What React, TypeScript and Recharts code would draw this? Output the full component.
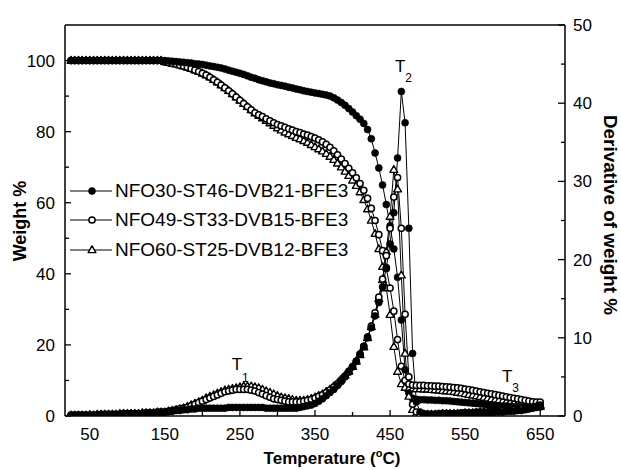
import React from 'react';
import { ComposedChart, Line, XAxis, YAxis, ReferenceLine, ReferenceDot, Legend } from 'recharts';

const FONT = "'Liberation Sans', Arial, Helvetica, sans-serif";

// Temperature (°C)
const temps = [
  25, 30, 35, 40, 45, 50, 55, 60, 65, 70,
  75, 80, 85, 90, 95, 100, 105, 110, 115, 120,
  125, 130, 135, 140, 145, 150, 155, 160, 165, 170,
  175, 180, 185, 190, 195, 200, 205, 210, 215, 220,
  225, 230, 235, 240, 245, 250, 255, 260, 265, 270,
  275, 280, 285, 290, 295, 300, 305, 310, 315, 320,
  325, 330, 335, 340, 345, 350, 355, 360, 365, 370,
  375, 380, 385, 390, 395, 400, 405, 410, 415, 420,
  425, 430, 435, 440, 445, 450, 455, 460, 465, 470,
  475, 480, 485, 490, 495, 500, 505, 510, 515, 520,
  525, 530, 535, 540, 545, 550, 555, 560, 565, 570,
  575, 580, 585, 590, 595, 600, 605, 610, 615, 620,
  625, 630, 635, 640, 645, 650,
];

// Weight % – NFO30-ST46-DVB21-BFE3
const weight1 = [
  100, 100, 100, 100, 100, 100, 100, 100, 100, 100,
  100, 100, 100, 100, 100, 100, 100, 100, 100, 100,
  100, 100, 100, 100, 100, 100, 99.9, 99.8, 99.7, 99.6,
  99.5, 99.4, 99.3, 99.1, 99.0, 98.9, 98.7, 98.5, 98.3, 98.1,
  97.9, 97.6, 97.3, 97.0, 96.7, 96.4, 96.1, 95.7, 95.3, 95.0,
  94.6, 94.3, 94.0, 93.7, 93.5, 93.2, 93.0, 92.8, 92.5, 92.3,
  92.0, 91.8, 91.5, 91.3, 91.1, 90.9, 90.7, 90.5, 90.3, 90.0,
  89.5, 88.9, 88.2, 87.4, 86.5, 85.5, 84.5, 83.5, 82.3, 80.6,
  78.0, 74.0, 69.8, 65.0, 59.5, 53.5, 47.0, 39.0, 27.0, 13.0,
  6.5, 5.0, 4.7, 4.6, 4.6, 4.5, 4.5, 4.4, 4.4, 4.3,
  4.3, 4.2, 4.1, 4.0, 3.9, 3.8, 3.7, 3.6, 3.5, 3.4,
  3.3, 3.2, 3.1, 3.0, 2.9, 2.8, 2.8, 2.7, 2.6, 2.6,
  2.5, 2.5, 2.4, 2.4, 2.4, 2.5,
];

// Weight % – NFO49-ST33-DVB15-BFE3
const weight2 = [
  100, 100, 100, 100, 100, 100, 100, 100, 100, 100,
  100, 100, 100, 100, 100, 100, 100, 100, 100, 100,
  100, 100, 100, 100, 100, 99.6, 99.4, 99.2, 99.0, 98.7,
  98.4, 98.1, 97.7, 97.3, 96.9, 96.4, 95.9, 95.3, 94.6, 93.9,
  93.1, 92.3, 91.5, 90.6, 89.7, 88.8, 87.9, 87.0, 86.1, 85.3,
  84.7, 84.2, 83.6, 83.0, 82.5, 82.0, 81.6, 81.2, 80.8, 80.4,
  80.0, 79.7, 79.3, 79.0, 78.6, 78.2, 77.7, 77.1, 76.4, 75.6,
  74.6, 73.5, 72.3, 71.0, 69.7, 68.4, 67.0, 65.4, 63.5, 61.2,
  58.4, 55.0, 51.0, 46.5, 41.5, 36.0, 29.5, 21.5, 14.0, 10.0,
  9.0, 8.7, 8.6, 8.6, 8.6, 8.5, 8.5, 8.4, 8.4, 8.3,
  8.2, 8.1, 8.0, 7.9, 7.8, 7.6, 7.4, 7.2, 7.0, 6.8,
  6.6, 6.4, 6.2, 6.0, 5.8, 5.6, 5.4, 5.2, 5.0, 4.8,
  4.6, 4.4, 4.2, 4.0, 3.9, 3.9,
];

// Weight % – NFO60-ST25-DVB12-BFE3
const weight3 = [
  100, 100, 100, 100, 100, 100, 100, 100, 100, 100,
  100, 100, 100, 100, 100, 100, 100, 100, 100, 100,
  100, 100, 100, 100, 100, 99.6, 99.4, 99.2, 99.0, 98.7,
  98.4, 98.1, 97.7, 97.3, 96.9, 96.4, 95.9, 95.3, 94.6, 93.9,
  93.1, 92.3, 91.5, 90.6, 89.7, 88.8, 87.9, 87.0, 86.1, 85.2,
  84.5, 83.8, 83.1, 82.4, 81.7, 81.0, 80.4, 79.8, 79.3, 78.8,
  78.3, 77.9, 77.4, 76.9, 76.3, 75.7, 75.1, 74.5, 73.8, 73.0,
  72.1, 71.1, 70.0, 68.8, 67.6, 66.3, 64.8, 63.0, 60.8, 58.2,
  55.0, 51.3, 47.0, 42.0, 36.0, 28.5, 19.5, 12.5, 9.0, 8.0,
  7.7, 7.6, 7.6, 7.6, 7.5, 7.5, 7.4, 7.3, 7.2, 7.1,
  7.0, 6.9, 6.8, 6.6, 6.4, 6.2, 6.0, 5.8, 5.6, 5.4,
  5.2, 5.0, 4.8, 4.6, 4.4, 4.2, 4.0, 3.8, 3.6, 3.4,
  3.3, 3.2, 3.1, 3.0, 3.0, 3.0,
];

// Derivative of weight % – NFO30-ST46-DVB21-BFE3
const deriv1 = [
  0.1, 0.1, 0.1, 0.1, 0.1, 0.1, 0.1, 0.1, 0.1, 0.2,
  0.2, 0.2, 0.2, 0.2, 0.2, 0.2, 0.3, 0.3, 0.3, 0.3,
  0.3, 0.4, 0.4, 0.4, 0.5, 0.5, 0.6, 0.6, 0.7, 0.7,
  0.8, 0.8, 0.9, 0.9, 1.0, 1.0, 1.0, 1.0, 1.0, 1.0,
  1.0, 1.0, 1.1, 1.1, 1.1, 1.1, 1.1, 1.1, 1.1, 1.1,
  1.1, 1.1, 1.0, 1.0, 1.0, 1.0, 1.0, 1.0, 1.0, 1.0,
  1.0, 1.1, 1.2, 1.3, 1.4, 1.6, 1.9, 2.2, 2.6, 3.0,
  3.4, 3.9, 4.4, 5.0, 5.6, 6.3, 7.0, 7.9, 8.9, 10.0,
  11.3, 12.8, 14.5, 16.5, 19.0, 22.0, 26.0, 33.0, 41.5, 37.5,
  24.0, 8.0, 1.8, 0.5, 0.3, 0.2, 0.2, 0.2, 0.2, 0.2,
  0.2, 0.2, 0.2, 0.3, 0.3, 0.3, 0.3, 0.3, 0.4, 0.4,
  0.4, 0.4, 0.5, 0.5, 0.5, 0.5, 0.6, 0.6, 0.6, 0.7,
  0.7, 0.8, 0.9, 1.0, 1.2, 1.4,
];

// Derivative of weight % – NFO49-ST33-DVB15-BFE3
const deriv2 = [
  0.1, 0.1, 0.1, 0.1, 0.1, 0.1, 0.1, 0.1, 0.2, 0.2,
  0.2, 0.2, 0.2, 0.2, 0.3, 0.3, 0.3, 0.3, 0.3, 0.3,
  0.4, 0.4, 0.4, 0.5, 0.5, 0.5, 0.6, 0.7, 0.8, 0.9,
  1.0, 1.1, 1.3, 1.5, 1.7, 1.9, 2.1, 2.3, 2.5, 2.7,
  2.9, 3.1, 3.2, 3.3, 3.4, 3.4, 3.4, 3.4, 3.3, 3.2,
  3.0, 2.8, 2.6, 2.4, 2.2, 2.1, 2.0, 1.9, 1.8, 1.8,
  1.8, 1.8, 1.9, 2.0, 2.1, 2.3, 2.5, 2.7, 3.0, 3.3,
  3.7, 4.1, 4.6, 5.1, 5.7, 6.3, 7.0, 7.9, 8.9, 10.1,
  11.5, 13.2, 15.2, 17.5, 20.5, 24.0, 28.0, 30.5, 24.0, 13.0,
  5.0, 1.5, 0.5, 0.2, 0.2, 0.2, 0.2, 0.2, 0.3, 0.3,
  0.3, 0.3, 0.3, 0.3, 0.4, 0.4, 0.4, 0.4, 0.5, 0.5,
  0.5, 0.5, 0.6, 0.6, 0.6, 0.7, 0.7, 0.7, 0.8, 0.8,
  0.9, 0.9, 1.0, 1.1, 1.2, 1.3,
];

// Derivative of weight % – NFO60-ST25-DVB12-BFE3
const deriv3 = [
  0.1, 0.1, 0.1, 0.1, 0.1, 0.1, 0.1, 0.2, 0.2, 0.2,
  0.2, 0.2, 0.2, 0.3, 0.3, 0.3, 0.3, 0.3, 0.3, 0.4,
  0.4, 0.4, 0.4, 0.5, 0.5, 0.5, 0.6, 0.7, 0.8, 0.9,
  1.0, 1.2, 1.4, 1.6, 1.8, 2.0, 2.3, 2.5, 2.7, 2.9,
  3.1, 3.3, 3.4, 3.5, 3.6, 3.7, 3.8, 3.8, 3.8, 3.7,
  3.6, 3.4, 3.2, 3.0, 2.8, 2.6, 2.4, 2.3, 2.2, 2.1,
  2.0, 2.0, 2.0, 2.1, 2.2, 2.4, 2.6, 2.8, 3.1, 3.4,
  3.8, 4.2, 4.7, 5.2, 5.7, 6.3, 7.0, 7.8, 8.8, 10.0,
  11.4, 13.0, 15.0, 17.4, 21.0, 25.5, 31.5, 29.0, 18.0, 8.0,
  2.5, 0.8, 0.3, 0.2, 0.2, 0.2, 0.2, 0.2, 0.2, 0.3,
  0.3, 0.3, 0.3, 0.3, 0.3, 0.4, 0.4, 0.4, 0.4, 0.5,
  0.5, 0.5, 0.5, 0.6, 0.6, 0.6, 0.7, 0.7, 0.7, 0.8,
  0.8, 0.9, 1.0, 1.1, 1.2, 1.2,
];

const seriesNames = ['NFO30-ST46-DVB21-BFE3', 'NFO49-ST33-DVB15-BFE3', 'NFO60-ST25-DVB12-BFE3'];
const seriesMarkers = ['filled', 'open', 'triangle'];

const xTicks = [50, 100, 150, 200, 250, 300, 350, 400, 450, 500, 550, 600, 650];
const xLabeled = [50, 150, 250, 350, 450, 550, 650];
const leftTicks = [0, 10, 20, 30, 40, 50, 60, 70, 80, 90, 100];
const leftLabeled = [0, 20, 40, 60, 80, 100];
const rightTicks = [0, 5, 10, 15, 20, 25, 30, 35, 40, 45, 50];
const rightLabeled = [0, 10, 20, 30, 40, 50];

const peakLabels = [
  { t: 239, d: 5.9, main: 'T', sub: '1', dy: 12 },
  { t: 456.5, d: 44.0, main: 'T', sub: '2', dy: 10 },
  { t: 599, d: 4.35, main: 'T', sub: '3', dy: 10 },
];

const data = temps.map((t, i) => ({
  t,
  w1: weight1[i],
  w2: weight2[i],
  w3: weight3[i],
  d1: deriv1[i],
  d2: deriv2[i],
  d3: deriv3[i],
}));

const Marker = ({ cx, cy, kind }: any) => {
  if (cx == null || cy == null || isNaN(cx) || isNaN(cy)) return null;
  if (kind === 'filled') return <circle cx={cx} cy={cy} r={3.5} fill="#000" stroke="#000" strokeWidth={0.6} />;
  if (kind === 'open') return <circle cx={cx} cy={cy} r={3.1} fill="#fff" stroke="#000" strokeWidth={1.5} />;
  const s = 4.1;
  return (
    <polygon
      points={`${cx},${cy - s} ${cx + s * 0.95},${cy + s * 0.65} ${cx - s * 0.95},${cy + s * 0.65}`}
      fill="#fff"
      stroke="#000"
      strokeWidth={1.4}
      strokeLinejoin="round"
    />
  );
};

const makeDot = (kind: string) => (p: any) => <Marker key={`${kind}-${p.index}`} cx={p.cx} cy={p.cy} kind={kind} />;

const XTick = ({ x, y, payload }: any) => {
  const v = payload.value;
  const major = xLabeled.includes(v);
  return (
    <g>
      <line x1={x} y1={y} x2={x} y2={y - (major ? 6 : 4)} stroke="#000" strokeWidth={1.3} />
      {major && (
        <text x={x} y={y + 24} textAnchor="middle" fontSize={17} fontFamily={FONT} fill="#000">
          {v}
        </text>
      )}
    </g>
  );
};

const LeftTick = ({ x, y, payload }: any) => {
  const v = payload.value;
  const major = leftLabeled.includes(v);
  return (
    <g>
      <line x1={x} y1={y} x2={x + (major ? 6 : 4)} y2={y} stroke="#000" strokeWidth={1.3} />
      {major && (
        <text x={x - 10} y={y + 6} textAnchor="end" fontSize={17} fontFamily={FONT} fill="#000">
          {v}
        </text>
      )}
    </g>
  );
};

const RightTick = ({ x, y, payload }: any) => {
  const v = payload.value;
  const major = rightLabeled.includes(v);
  return (
    <g>
      <line x1={x} y1={y} x2={x - (major ? 7 : 4)} y2={y} stroke="#000" strokeWidth={1.3} />
      {major && (
        <text x={x + 8} y={y + 6} textAnchor="start" fontSize={17} fontFamily={FONT} fill="#000">
          {v}
        </text>
      )}
    </g>
  );
};

const XTitle = ({ viewBox }: any) => {
  const cx = viewBox.x + viewBox.width / 2 + 17;
  const by = viewBox.y + 48;
  return (
    <text x={cx} y={by} textAnchor="middle" fontSize={17} fontWeight="bold" fontFamily={FONT} fill="#000">
      Temperature (<tspan fontSize={11} dy={-7}>o</tspan>
      <tspan dy={7}>C)</tspan>
    </text>
  );
};

const LeftTitle = ({ viewBox }: any) => {
  const cx = viewBox.x + 20;
  const cy = 221;
  return (
    <text
      x={cx}
      y={cy}
      transform={`rotate(-90 ${cx} ${cy})`}
      textAnchor="middle"
      dominantBaseline="central"
      fontSize={18}
      fontWeight="bold"
      fontFamily={FONT}
      fill="#000"
    >
      Weight %
    </text>
  );
};

const RightTitle = ({ viewBox }: any) => {
  const cx = viewBox.x + 45;
  const cy = 215;
  return (
    <text
      x={cx}
      y={cy}
      transform={`rotate(90 ${cx} ${cy})`}
      textAnchor="middle"
      dominantBaseline="central"
      fontSize={18}
      fontWeight="bold"
      fontFamily={FONT}
      fill="#000"
      textLength={200}
      lengthAdjust="spacingAndGlyphs"
    >
      Derivative of weight %
    </text>
  );
};

const PeakLabel = ({ viewBox, main, sub, dy }: any) => {
  if (!viewBox) return null;
  return (
    <text x={viewBox.x} y={viewBox.y} fontSize={17} fontFamily={FONT} fill="#000">
      {main}
      <tspan fontSize={12} dx={0} dy={dy}>
        {sub}
      </tspan>
    </text>
  );
};

const LegendContent = () => (
  <div style={{ fontFamily: FONT, fontSize: 19, color: '#000' }}>
    {seriesNames.map((name, i) => (
      <div key={name} style={{ display: 'flex', alignItems: 'center', height: 29.5, whiteSpace: 'nowrap' }}>
        <svg width={45} height={14} style={{ display: 'block' }}>
          <line x1={0} y1={7} x2={42} y2={7} stroke="#000" strokeWidth={1.2} />
          <Marker cx={22} cy={7} kind={seriesMarkers[i]} />
        </svg>
        <span>{name}</span>
      </div>
    ))}
  </div>
);

export default function App() {
  const order = [2, 1, 0];
  return (
    <div style={{ position: 'absolute', left: 0, top: 0, width: 621, height: 470, background: '#fff' }}>
      <ComposedChart width={621} height={470} data={data} margin={{ top: 25, right: 0, bottom: 0, left: 0 }}>
        <XAxis
          dataKey="t"
          type="number"
          domain={[17, 683]}
          ticks={xTicks}
          interval={0}
          allowDataOverflow
          height={54}
          tickSize={0}
          tickMargin={0}
          tickLine={false}
          axisLine={{ stroke: '#000', strokeWidth: 1.5 }}
          tick={(p: any) => <XTick {...p} />}
          label={<XTitle />}
        />
        <YAxis
          yAxisId="left"
          type="number"
          domain={[0, 110]}
          ticks={leftTicks}
          interval={0}
          allowDataOverflow
          width={65}
          tickSize={0}
          tickMargin={0}
          tickLine={false}
          axisLine={{ stroke: '#000', strokeWidth: 1.5 }}
          tick={(p: any) => <LeftTick {...p} />}
          label={<LeftTitle />}
        />
        <YAxis
          yAxisId="right"
          orientation="right"
          type="number"
          domain={[0, 50]}
          ticks={rightTicks}
          interval={0}
          allowDataOverflow
          width={56}
          tickSize={0}
          tickMargin={0}
          tickLine={false}
          axisLine={{ stroke: '#000', strokeWidth: 1.5 }}
          tick={(p: any) => <RightTick {...p} />}
          label={<RightTitle />}
        />
        <ReferenceLine yAxisId="left" y={110} stroke="#000" strokeWidth={1.5} />
        {order.map((i) => (
          <Line
            key={`w${i}`}
            yAxisId="left"
            dataKey={`w${i + 1}`}
            name={seriesNames[i]}
            type="linear"
            stroke="#000"
            strokeWidth={1}
            dot={makeDot(seriesMarkers[i])}
            activeDot={false}
            isAnimationActive={false}
            legendType="none"
          />
        ))}
        {order.map((i) => (
          <Line
            key={`d${i}`}
            yAxisId="right"
            dataKey={`d${i + 1}`}
            name={seriesNames[i]}
            type="linear"
            stroke="#000"
            strokeWidth={1}
            dot={makeDot(seriesMarkers[i])}
            activeDot={false}
            isAnimationActive={false}
            legendType="none"
          />
        ))}
        {peakLabels.map((pl) => (
          <ReferenceDot
            key={pl.sub}
            yAxisId="right"
            x={pl.t}
            y={pl.d}
            r={0}
            fill="none"
            stroke="none"
            label={<PeakLabel main={pl.main} sub={pl.sub} dy={pl.dy} />}
          />
        ))}
        <Legend
          layout="vertical"
          align="center"
          verticalAlign="middle"
          content={<LegendContent />}
          wrapperStyle={{ position: 'absolute', left: 70, top: 176, width: 320 }}
        />
      </ComposedChart>
    </div>
  );
}
